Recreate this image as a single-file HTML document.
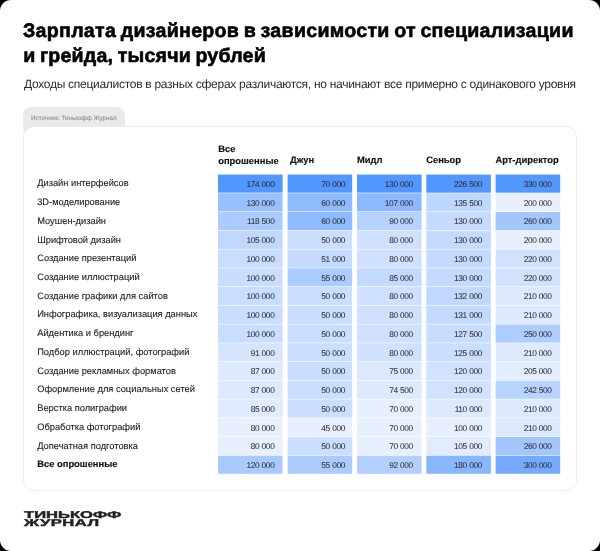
<!DOCTYPE html>
<html><head><meta charset="utf-8"><style>
*{margin:0;padding:0;box-sizing:border-box}
html,body{width:600px;height:551px;overflow:hidden;background:#000}
body{font-family:"Liberation Sans",sans-serif;position:relative;text-rendering:geometricPrecision}
#page{will-change:transform;position:absolute;left:0;top:0;width:600px;height:551px;background:#fff;border-radius:11px;overflow:hidden}
.t{position:absolute;white-space:nowrap;line-height:1}
#t1,#t2{left:23px;font-size:19.6px;font-weight:bold;color:#000;letter-spacing:0.29px;word-spacing:-1.2px;-webkit-text-stroke:0.6px #000}
#sub{left:24px;font-size:12px;font-weight:normal;color:#2b2b2b;letter-spacing:-0.28px}
#tab{position:absolute;left:23px;top:107.3px;width:102.3px;height:30px;background:#eaeaea;border-radius:8px}
#src{left:31px;font-size:6.3px;font-weight:normal;color:#9c9c9c;letter-spacing:0px;-webkit-text-stroke:0.2px #9c9c9c}
#card{position:absolute;left:23px;top:126.2px;width:554px;height:365px;background:#fff;border:1.1px solid #ededed;border-radius:11px}
.hd{position:absolute;white-space:nowrap;line-height:1;font-size:9.4px;font-weight:bold;color:#111;-webkit-text-stroke:0.15px #111;letter-spacing:0px}
.lb{position:absolute;white-space:nowrap;line-height:1;left:37.2px;font-size:9.3px;font-weight:normal;color:#222;-webkit-text-stroke:0.1px #222;letter-spacing:0px}
.lb.b{font-size:9.4px;font-weight:bold;color:#111;-webkit-text-stroke:0.15px #111;letter-spacing:0px}
.c{position:absolute;width:64.6px}
.n{position:absolute;white-space:nowrap;line-height:1;font-size:8.3px;font-weight:normal;color:#2e2e2e;word-spacing:0.4px;letter-spacing:-0.35px;-webkit-text-stroke:0.05px #2e2e2e}
.logo{position:absolute;white-space:nowrap;line-height:1;left:24px;font-size:9.9px;font-weight:bold;color:#222;transform:scaleX(1.68);transform-origin:0 0;letter-spacing:0px;-webkit-text-stroke:0.4px #222}
</style></head><body><div id="page">
<div class="t" id="t1" style="top:22px">Зарплата дизайнеров в зависимости от специализации</div>
<div class="t" id="t2" style="left:23.3px;letter-spacing:0.2px;top:47px">и грейда, тысячи рублей</div>
<div class="t" id="sub" style="top:78px">Доходы специалистов в разных сферах различаются, но начинают все примерно с одинакового уровня</div>
<div id="tab"></div>
<div class="t" id="src" style="top:116px">Источник: Тинькофф Журнал</div>
<div id="card"></div>
<div class="hd" style="left:218.2px;top:144px">Все</div>
<div class="hd" style="left:218.2px;top:156px">опрошенные</div>
<div class="hd" style="left:290.0px;top:155px">Джун</div>
<div class="hd" style="left:357.0px;top:155px">Мидл</div>
<div class="hd" style="left:426.2px;top:155px">Сеньор</div>
<div class="hd" style="left:495.4px;top:155px">Арт-директор</div>
<svg style="position:absolute;left:0;top:0" width="600" height="551" viewBox="0 0 600 551"><rect x="218.00" y="174.55" width="64.60" height="18.14" fill="rgb(82,150,255)"/><rect x="287.60" y="174.55" width="64.60" height="18.14" fill="rgb(82,150,255)"/><rect x="357.00" y="174.55" width="64.60" height="18.14" fill="rgb(82,150,255)"/><rect x="426.30" y="174.55" width="64.60" height="18.14" fill="rgb(82,150,255)"/><rect x="495.60" y="174.55" width="64.60" height="18.14" fill="rgb(82,150,255)"/><rect x="218.00" y="193.29" width="64.60" height="18.14" fill="rgb(152,192,255)"/><rect x="287.60" y="193.29" width="64.60" height="18.14" fill="rgb(142,186,255)"/><rect x="357.00" y="193.29" width="64.60" height="18.14" fill="rgb(140,184,255)"/><rect x="426.30" y="193.29" width="64.60" height="18.14" fill="rgb(190,215,255)"/><rect x="495.60" y="193.29" width="64.60" height="18.14" fill="rgb(232,240,255)"/><rect x="218.00" y="212.03" width="64.60" height="18.14" fill="rgb(171,203,255)"/><rect x="287.60" y="212.03" width="64.60" height="18.14" fill="rgb(142,186,255)"/><rect x="357.00" y="212.03" width="64.60" height="18.14" fill="rgb(182,210,255)"/><rect x="426.30" y="212.03" width="64.60" height="18.14" fill="rgb(196,219,255)"/><rect x="495.60" y="212.03" width="64.60" height="18.14" fill="rgb(163,198,255)"/><rect x="218.00" y="230.77" width="64.60" height="18.14" fill="rgb(192,216,255)"/><rect x="287.60" y="230.77" width="64.60" height="18.14" fill="rgb(202,222,255)"/><rect x="357.00" y="230.77" width="64.60" height="18.14" fill="rgb(207,225,255)"/><rect x="426.30" y="230.77" width="64.60" height="18.14" fill="rgb(196,219,255)"/><rect x="495.60" y="230.77" width="64.60" height="18.14" fill="rgb(232,240,255)"/><rect x="218.00" y="249.51" width="64.60" height="18.14" fill="rgb(200,221,255)"/><rect x="287.60" y="249.51" width="64.60" height="18.14" fill="rgb(196,218,255)"/><rect x="357.00" y="249.51" width="64.60" height="18.14" fill="rgb(207,225,255)"/><rect x="426.30" y="249.51" width="64.60" height="18.14" fill="rgb(196,219,255)"/><rect x="495.60" y="249.51" width="64.60" height="18.14" fill="rgb(209,226,255)"/><rect x="218.00" y="268.25" width="64.60" height="18.14" fill="rgb(200,221,255)"/><rect x="287.60" y="268.25" width="64.60" height="18.14" fill="rgb(172,204,255)"/><rect x="357.00" y="268.25" width="64.60" height="18.14" fill="rgb(194,218,255)"/><rect x="426.30" y="268.25" width="64.60" height="18.14" fill="rgb(196,219,255)"/><rect x="495.60" y="268.25" width="64.60" height="18.14" fill="rgb(209,226,255)"/><rect x="218.00" y="286.99" width="64.60" height="18.14" fill="rgb(200,221,255)"/><rect x="287.60" y="286.99" width="64.60" height="18.14" fill="rgb(202,222,255)"/><rect x="357.00" y="286.99" width="64.60" height="18.14" fill="rgb(207,225,255)"/><rect x="426.30" y="286.99" width="64.60" height="18.14" fill="rgb(194,217,255)"/><rect x="495.60" y="286.99" width="64.60" height="18.14" fill="rgb(220,233,255)"/><rect x="218.00" y="305.73" width="64.60" height="18.14" fill="rgb(200,221,255)"/><rect x="287.60" y="305.73" width="64.60" height="18.14" fill="rgb(202,222,255)"/><rect x="357.00" y="305.73" width="64.60" height="18.14" fill="rgb(207,225,255)"/><rect x="426.30" y="305.73" width="64.60" height="18.14" fill="rgb(195,218,255)"/><rect x="495.60" y="305.73" width="64.60" height="18.14" fill="rgb(220,233,255)"/><rect x="218.00" y="324.47" width="64.60" height="18.14" fill="rgb(200,221,255)"/><rect x="287.60" y="324.47" width="64.60" height="18.14" fill="rgb(202,222,255)"/><rect x="357.00" y="324.47" width="64.60" height="18.14" fill="rgb(207,225,255)"/><rect x="426.30" y="324.47" width="64.60" height="18.14" fill="rgb(199,220,255)"/><rect x="495.60" y="324.47" width="64.60" height="18.14" fill="rgb(174,205,255)"/><rect x="218.00" y="343.21" width="64.60" height="18.14" fill="rgb(214,229,255)"/><rect x="287.60" y="343.21" width="64.60" height="18.14" fill="rgb(202,222,255)"/><rect x="357.00" y="343.21" width="64.60" height="18.14" fill="rgb(207,225,255)"/><rect x="426.30" y="343.21" width="64.60" height="18.14" fill="rgb(202,222,255)"/><rect x="495.60" y="343.21" width="64.60" height="18.14" fill="rgb(220,233,255)"/><rect x="218.00" y="361.95" width="64.60" height="18.14" fill="rgb(221,233,255)"/><rect x="287.60" y="361.95" width="64.60" height="18.14" fill="rgb(202,222,255)"/><rect x="357.00" y="361.95" width="64.60" height="18.14" fill="rgb(220,232,255)"/><rect x="426.30" y="361.95" width="64.60" height="18.14" fill="rgb(208,226,255)"/><rect x="495.60" y="361.95" width="64.60" height="18.14" fill="rgb(226,237,255)"/><rect x="218.00" y="380.69" width="64.60" height="18.14" fill="rgb(221,233,255)"/><rect x="287.60" y="380.69" width="64.60" height="18.14" fill="rgb(202,222,255)"/><rect x="357.00" y="380.69" width="64.60" height="18.14" fill="rgb(221,233,255)"/><rect x="426.30" y="380.69" width="64.60" height="18.14" fill="rgb(208,226,255)"/><rect x="495.60" y="380.69" width="64.60" height="18.14" fill="rgb(183,211,255)"/><rect x="218.00" y="399.43" width="64.60" height="18.14" fill="rgb(224,235,255)"/><rect x="287.60" y="399.43" width="64.60" height="18.14" fill="rgb(202,222,255)"/><rect x="357.00" y="399.43" width="64.60" height="18.14" fill="rgb(232,240,255)"/><rect x="426.30" y="399.43" width="64.60" height="18.14" fill="rgb(220,233,255)"/><rect x="495.60" y="399.43" width="64.60" height="18.14" fill="rgb(220,233,255)"/><rect x="218.00" y="418.17" width="64.60" height="18.14" fill="rgb(232,240,255)"/><rect x="287.60" y="418.17" width="64.60" height="18.14" fill="rgb(232,240,255)"/><rect x="357.00" y="418.17" width="64.60" height="18.14" fill="rgb(232,240,255)"/><rect x="426.30" y="418.17" width="64.60" height="18.14" fill="rgb(232,240,255)"/><rect x="495.60" y="418.17" width="64.60" height="18.14" fill="rgb(220,233,255)"/><rect x="218.00" y="436.91" width="64.60" height="18.14" fill="rgb(232,240,255)"/><rect x="287.60" y="436.91" width="64.60" height="18.14" fill="rgb(202,222,255)"/><rect x="357.00" y="436.91" width="64.60" height="18.14" fill="rgb(232,240,255)"/><rect x="426.30" y="436.91" width="64.60" height="18.14" fill="rgb(226,236,255)"/><rect x="495.60" y="436.91" width="64.60" height="18.14" fill="rgb(163,198,255)"/><rect x="218.00" y="455.65" width="64.60" height="18.14" fill="rgb(168,202,255)"/><rect x="287.60" y="455.65" width="64.60" height="18.14" fill="rgb(172,204,255)"/><rect x="357.00" y="455.65" width="64.60" height="18.14" fill="rgb(177,207,255)"/><rect x="426.30" y="455.65" width="64.60" height="18.14" fill="rgb(137,183,255)"/><rect x="495.60" y="455.65" width="64.60" height="18.14" fill="rgb(117,171,255)"/></svg>
<div class="lb" style="top:179px">Дизайн интерфейсов</div>
<div class="n" style="right:325.60px;top:180px">174 000</div>
<div class="n" style="right:255.00px;top:180px">70 000</div>
<div class="n" style="right:187.20px;top:180px">130 000</div>
<div class="n" style="right:118.00px;top:180px">226 500</div>
<div class="n" style="right:48.40px;top:180px">330 000</div>
<div class="lb" style="top:198px">3D-моделирование</div>
<div class="n" style="right:325.60px;top:199px">130 000</div>
<div class="n" style="right:255.00px;top:199px">60 000</div>
<div class="n" style="right:187.20px;top:199px">107 000</div>
<div class="n" style="right:118.00px;top:199px">135 500</div>
<div class="n" style="right:48.40px;top:199px">200 000</div>
<div class="lb" style="top:217px">Моушен-дизайн</div>
<div class="n" style="right:325.60px;top:217px">118 500</div>
<div class="n" style="right:255.00px;top:217px">60 000</div>
<div class="n" style="right:187.20px;top:217px">90 000</div>
<div class="n" style="right:118.00px;top:217px">130 000</div>
<div class="n" style="right:48.40px;top:217px">260 000</div>
<div class="lb" style="top:236px">Шрифтовой дизайн</div>
<div class="n" style="right:325.60px;top:236px">105 000</div>
<div class="n" style="right:255.00px;top:236px">50 000</div>
<div class="n" style="right:187.20px;top:236px">80 000</div>
<div class="n" style="right:118.00px;top:236px">130 000</div>
<div class="n" style="right:48.40px;top:236px">200 000</div>
<div class="lb" style="top:254px">Создание презентаций</div>
<div class="n" style="right:325.60px;top:255px">100 000</div>
<div class="n" style="right:255.00px;top:255px">51 000</div>
<div class="n" style="right:187.20px;top:255px">80 000</div>
<div class="n" style="right:118.00px;top:255px">130 000</div>
<div class="n" style="right:48.40px;top:255px">220 000</div>
<div class="lb" style="top:273px">Создание иллюстраций</div>
<div class="n" style="right:325.60px;top:274px">100 000</div>
<div class="n" style="right:255.00px;top:274px">55 000</div>
<div class="n" style="right:187.20px;top:274px">85 000</div>
<div class="n" style="right:118.00px;top:274px">130 000</div>
<div class="n" style="right:48.40px;top:274px">220 000</div>
<div class="lb" style="top:292px">Создание графики для сайтов</div>
<div class="n" style="right:325.60px;top:292px">100 000</div>
<div class="n" style="right:255.00px;top:292px">50 000</div>
<div class="n" style="right:187.20px;top:292px">80 000</div>
<div class="n" style="right:118.00px;top:292px">132 000</div>
<div class="n" style="right:48.40px;top:292px">210 000</div>
<div class="lb" style="top:310px">Инфографика, визуализация данных</div>
<div class="n" style="right:325.60px;top:311px">100 000</div>
<div class="n" style="right:255.00px;top:311px">50 000</div>
<div class="n" style="right:187.20px;top:311px">80 000</div>
<div class="n" style="right:118.00px;top:311px">131 000</div>
<div class="n" style="right:48.40px;top:311px">210 000</div>
<div class="lb" style="top:329px">Айдентика и брендинг</div>
<div class="n" style="right:325.60px;top:330px">100 000</div>
<div class="n" style="right:255.00px;top:330px">50 000</div>
<div class="n" style="right:187.20px;top:330px">80 000</div>
<div class="n" style="right:118.00px;top:330px">127 500</div>
<div class="n" style="right:48.40px;top:330px">250 000</div>
<div class="lb" style="top:348px">Подбор иллюстраций, фотографий</div>
<div class="n" style="right:325.60px;top:349px">91 000</div>
<div class="n" style="right:255.00px;top:349px">50 000</div>
<div class="n" style="right:187.20px;top:349px">80 000</div>
<div class="n" style="right:118.00px;top:349px">125 000</div>
<div class="n" style="right:48.40px;top:349px">210 000</div>
<div class="lb" style="top:367px">Создание рекламных форматов</div>
<div class="n" style="right:325.60px;top:367px">87 000</div>
<div class="n" style="right:255.00px;top:367px">50 000</div>
<div class="n" style="right:187.20px;top:367px">75 000</div>
<div class="n" style="right:118.00px;top:367px">120 000</div>
<div class="n" style="right:48.40px;top:367px">205 000</div>
<div class="lb" style="top:385px">Оформление для социальных сетей</div>
<div class="n" style="right:325.60px;top:386px">87 000</div>
<div class="n" style="right:255.00px;top:386px">50 000</div>
<div class="n" style="right:187.20px;top:386px">74 500</div>
<div class="n" style="right:118.00px;top:386px">120 000</div>
<div class="n" style="right:48.40px;top:386px">242 500</div>
<div class="lb" style="top:404px">Верстка полиграфии</div>
<div class="n" style="right:325.60px;top:405px">85 000</div>
<div class="n" style="right:255.00px;top:405px">50 000</div>
<div class="n" style="right:187.20px;top:405px">70 000</div>
<div class="n" style="right:118.00px;top:405px">110 000</div>
<div class="n" style="right:48.40px;top:405px">210 000</div>
<div class="lb" style="top:423px">Обработка фотографий</div>
<div class="n" style="right:325.60px;top:424px">80 000</div>
<div class="n" style="right:255.00px;top:424px">45 000</div>
<div class="n" style="right:187.20px;top:424px">70 000</div>
<div class="n" style="right:118.00px;top:424px">100 000</div>
<div class="n" style="right:48.40px;top:424px">210 000</div>
<div class="lb" style="top:442px">Допечатная подготовка</div>
<div class="n" style="right:325.60px;top:442px">80 000</div>
<div class="n" style="right:255.00px;top:442px">50 000</div>
<div class="n" style="right:187.20px;top:442px">70 000</div>
<div class="n" style="right:118.00px;top:442px">105 000</div>
<div class="n" style="right:48.40px;top:442px">260 000</div>
<div class="lb b" style="top:459px">Все опрошенные</div>
<div class="n" style="right:325.60px;top:461px">120 000</div>
<div class="n" style="right:255.00px;top:461px">55 000</div>
<div class="n" style="right:187.20px;top:461px">92 000</div>
<div class="n" style="right:118.00px;top:461px">180 000</div>
<div class="n" style="right:48.40px;top:461px">300 000</div>
<div class="logo" style="top:511px">ТИНЬКОФФ</div>
<div class="logo" style="letter-spacing:0.3px;top:519px">ЖУРНАЛ</div>
</div></body></html>
